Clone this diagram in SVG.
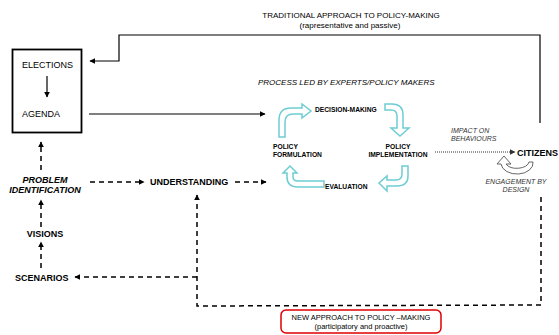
<svg xmlns="http://www.w3.org/2000/svg" width="559" height="335" viewBox="0 0 559 335">
<defs>
<marker id="ah" viewBox="0 0 10 10" refX="9" refY="5" markerWidth="6" markerHeight="6" markerUnits="userSpaceOnUse" orient="auto"><path d="M0,0 L10,5 L0,10 Z" fill="#000"/></marker>
<marker id="ahg" viewBox="0 0 10 10" refX="9" refY="5" markerWidth="6" markerHeight="6" markerUnits="userSpaceOnUse" orient="auto"><path d="M0,0 L10,5 L0,10 Z" fill="#333"/></marker>
</defs>
<style>
text{font-family:"Liberation Sans",Arial,sans-serif;fill:#000}
.t8{font-size:8px}
.b9{font-size:9px;font-weight:bold}
.b7{font-size:6.7px;font-weight:bold}
.it{font-style:italic}
.c{text-anchor:middle}
.ln{fill:none;stroke:#000;stroke-width:1.2}
.ds{fill:none;stroke:#000;stroke-width:1.5;stroke-dasharray:5,4}
.teal{fill:#fff;stroke:#6fcdd4;stroke-width:1.5}
</style>
<rect width="559" height="335" fill="#fff"/>

<g id="connectors">
<polyline class="ln" points="540,123 540,35 119,35 119,61 90,61" marker-end="url(#ah)"/>
<line class="ln" x1="47" y1="76" x2="47" y2="97" marker-end="url(#ah)"/>
<line class="ln" x1="89" y1="114" x2="265" y2="114" marker-end="url(#ah)"/>
<line class="ds" x1="41" y1="170" x2="41" y2="142" marker-end="url(#ah)"/>
<line class="ds" x1="41" y1="227" x2="41" y2="200" marker-end="url(#ah)"/>
<line class="ds" x1="41" y1="268" x2="41" y2="242" marker-end="url(#ah)"/>
<line class="ds" x1="90" y1="182" x2="144" y2="182" marker-end="url(#ah)"/>
<line class="ds" x1="235" y1="182" x2="266" y2="182" marker-end="url(#ah)"/>
<polyline class="ds" points="541,197 541,305 197,306 197,195" marker-end="url(#ah)"/>
<line class="ds" x1="197" y1="277" x2="75" y2="277" marker-end="url(#ah)"/>
<line x1="435" y1="152" x2="515" y2="152" stroke="#333" stroke-width="1" stroke-dasharray="1,1" marker-end="url(#ahg)"/>
</g>

<g id="traditional">
<text class="t8 c" x="351" y="18">TRADITIONAL APPROACH TO POLICY-MAKING</text>
<text class="t8 c" x="350" y="28">(rapresentative and passive)</text>
</g>

<g id="elections-agenda">
<rect x="12.5" y="49.5" width="69" height="83" fill="none" stroke="#000" stroke-width="1.8"/>
<text x="22" y="68" style="font-size:9px">ELECTIONS</text>
<text x="22" y="117" style="font-size:9px">AGENDA</text>
</g>

<g id="process-label">
<text class="t8 it" x="258" y="85">PROCESS LED BY EXPERTS/POLICY MAKERS</text>
</g>

<g id="cycle">
<path class="teal" d="M279,137 L279,120 Q279,108 291,108 L302,108 L302,104 L311,111 L302,118 L302,114 L293,114 Q285,114 285,122 L285,137 Z"/>
<path class="teal" d="M385,104 L392,104 Q403,104 403,115 L403,128 L409,128 L400,136 L391,128 L397,128 L397,116 Q397,110 391,110 L385,110 Z"/>
<path class="teal" d="M402,166 L408,166 L408,176 Q408,186 397,186 L387,186 L387,191 L379,183 L387,176 L387,180 L396,180 Q402,180 402,174 Z"/>
<path class="teal" d="M324,181 L324,187 L298,187 Q287,187 287,177 L287,173 L283,173 L290,166 L297,173 L293,173 L293,177 Q293,181 298,181 Z"/>
</g>

<g id="decision-making"><text class="b7" x="315" y="112">DECISION-MAKING</text></g>
<g id="policy-implementation">
<text class="b7 c" x="398" y="149">POLICY</text>
<text class="b7 c" x="398" y="157">IMPLEMENTATION</text>
</g>
<g id="evaluation"><text class="b7" x="325" y="189">EVALUATION</text></g>
<g id="policy-formulation">
<text class="b7" x="273" y="149">POLICY</text>
<text class="b7" x="273" y="157">FORMULATION</text>
</g>

<g id="impact">
<text class="it" x="451" y="133" style="font-size:7px;fill:#333">IMPACT ON</text>
<text class="it" x="451" y="141" style="font-size:7px;fill:#333">BEHAVIOURS</text>
</g>

<g id="citizens">
<text x="517" y="155.5" style="font-size:9px;font-weight:bold">CITIZENS</text>
<path d="M533,162 A16,11 0 0 1 501,164 L497,164 L504,156 L511,164 L506,164 A12,7 0 0 0 529,162 Z" fill="#fff" stroke="#555" stroke-width="0.9"/>
<text class="it c" x="516" y="184" style="font-size:7px;fill:#333">ENGAGEMENT BY</text>
<text class="it c" x="516" y="192" style="font-size:7px;fill:#333">DESIGN</text>
</g>

<g id="problem-identification">
<text class="b9 it c" x="45" y="183">PROBLEM</text>
<text class="b9 it c" x="45" y="193">IDENTIFICATION</text>
</g>
<g id="understanding"><text class="b9" x="150" y="185">UNDERSTANDING</text></g>
<g id="visions"><text class="b9 c" x="45" y="237">VISIONS</text></g>
<g id="scenarios"><text class="b9" x="15" y="281">SCENARIOS</text></g>

<g id="new-approach">
<rect x="281" y="310" width="160" height="23" rx="5" fill="#fff" stroke="#e00000" stroke-width="1.5"/>
<text class="c" x="361" y="320" style="font-size:7.5px">NEW APPROACH TO POLICY –MAKING</text>
<text class="c" x="361" y="329" style="font-size:7.5px">(participatory and proactive)</text>
</g>
</svg>
